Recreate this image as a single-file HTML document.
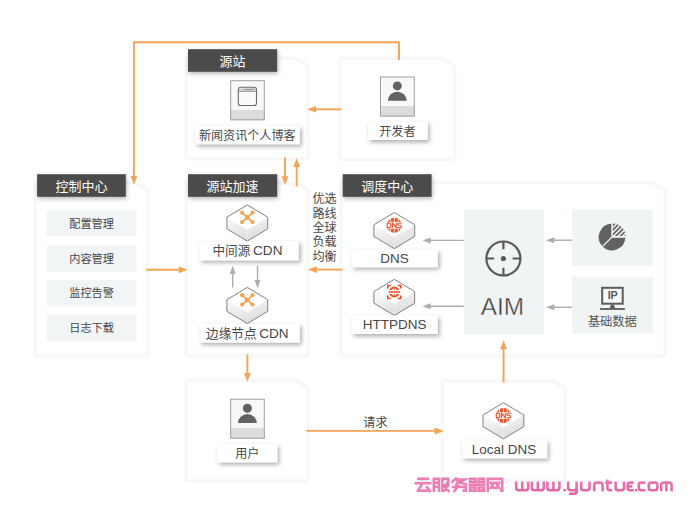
<!DOCTYPE html>
<html><head><meta charset="utf-8"><title>CDN</title>
<style>html,body{margin:0;padding:0;background:#fff}svg{display:block}text{font-family:"Liberation Sans","Noto Sans CJK SC",sans-serif}</style></head>
<body><svg width="700" height="522" viewBox="0 0 700 522">
<defs>
<filter id="psh" x="-8%" y="-8%" width="116%" height="116%"><feGaussianBlur stdDeviation="0.7"/></filter>
<filter id="hsh" x="-10%" y="-20%" width="120%" height="160%"><feDropShadow dx="1" dy="2" stdDeviation="2" flood-color="#000" flood-opacity="0.28"/></filter>
<filter id="lsh" x="-10%" y="-30%" width="120%" height="180%"><feDropShadow dx="1.8" dy="2.2" stdDeviation="2.1" flood-color="#000" flood-opacity="0.33"/></filter>
<linearGradient id="pk" gradientUnits="userSpaceOnUse" x1="0" y1="477" x2="0" y2="495"><stop offset="0" stop-color="#eb7fb5"/><stop offset="1" stop-color="#e25e9f"/></linearGradient>
<linearGradient id="gl" x1="0" y1="0" x2="0.25" y2="1"><stop offset="0" stop-color="#fdfdfd"/><stop offset="1" stop-color="#e0e0e0"/></linearGradient>
<linearGradient id="gr" x1="0.3" y1="0" x2="0.6" y2="1"><stop offset="0" stop-color="#f4f4f4"/><stop offset="1" stop-color="#d9d9d9"/></linearGradient>
</defs>
<title>CDN 架构图</title>
<desc>源站 新闻资讯个人博客 开发者 控制中心 配置管理 内容管理 监控告警 日志下载 源站加速 中间源 CDN 边缘节点 CDN 优选路线全球负载均衡 调度中心 DNS HTTPDNS AIM 基础数据 IP 用户 请求 Local DNS</desc>
<rect width="700" height="522" fill="#fff"/>
<polygon points="188,60 295.4,60 306.4,67 306.4,157 188,157" fill="none" stroke="#f8f8f9" stroke-width="7" stroke-linejoin="round" filter="url(#psh)"/><polygon points="188,60 295.4,60 306.4,67 306.4,157 188,157" fill="#fff"/><polygon points="341.5,60 442,60 453,67 453,157.5 341.5,157.5" fill="none" stroke="#f8f8f9" stroke-width="7" stroke-linejoin="round" filter="url(#psh)"/><polygon points="341.5,60 442,60 453,67 453,157.5 341.5,157.5" fill="#fff"/><polygon points="36.8,184.5 135.3,184.5 146.3,191.5 146.3,353.8 36.8,353.8" fill="none" stroke="#f8f8f9" stroke-width="7" stroke-linejoin="round" filter="url(#psh)"/><polygon points="36.8,184.5 135.3,184.5 146.3,191.5 146.3,353.8 36.8,353.8" fill="#fff"/><polygon points="188,184.5 295.4,184.5 306.4,191.5 306.4,354 188,354" fill="none" stroke="#f8f8f9" stroke-width="7" stroke-linejoin="round" filter="url(#psh)"/><polygon points="188,184.5 295.4,184.5 306.4,191.5 306.4,354 188,354" fill="#fff"/><polygon points="342.7,184.5 652.5,184.5 663.5,191.5 663.5,354.3 342.7,354.3" fill="none" stroke="#f8f8f9" stroke-width="7" stroke-linejoin="round" filter="url(#psh)"/><polygon points="342.7,184.5 652.5,184.5 663.5,191.5 663.5,354.3 342.7,354.3" fill="#fff"/><polygon points="188,382.3 295.4,382.3 306.4,389.3 306.4,479.3 188,479.3" fill="none" stroke="#f8f8f9" stroke-width="7" stroke-linejoin="round" filter="url(#psh)"/><polygon points="188,382.3 295.4,382.3 306.4,389.3 306.4,479.3 188,479.3" fill="#fff"/><polygon points="444.2,382.5 552.4,382.5 563.4,389.5 563.4,479.3 444.2,479.3" fill="none" stroke="#f8f8f9" stroke-width="7" stroke-linejoin="round" filter="url(#psh)"/><polygon points="444.2,382.5 552.4,382.5 563.4,389.5 563.4,479.3 444.2,479.3" fill="#fff"/><path d="M399.0 60.0 L399.0 42.2 L133.9 42.2" fill="none" stroke="#f4a455" stroke-width="1.9"/><path d="M133.9 41.3 L133.9 177.0" fill="none" stroke="#f4a455" stroke-width="1.9"/><polygon points="133.9,185.0 130.6,176.0 137.2,176.0" fill="#f4a455"/><rect x="188" y="49.2" width="89.19999999999999" height="22.599999999999994" fill="#4b4b4b" filter="url(#hsh)"/><text x="219.6" y="65.64" font-size="13" fill="#fff">源站</text><rect x="37.1" y="174.2" width="88.69999999999999" height="22.600000000000023" fill="#4b4b4b" filter="url(#hsh)"/><text x="55.45" y="190.64" font-size="13" fill="#fff">控制中心</text><rect x="188" y="174.2" width="89.19999999999999" height="22.600000000000023" fill="#4b4b4b" filter="url(#hsh)"/><text x="206.6" y="190.64" font-size="13" fill="#fff">源站加速</text><rect x="342.7" y="174.2" width="88.90000000000003" height="22.600000000000023" fill="#4b4b4b" filter="url(#hsh)"/><text x="361.15" y="190.64" font-size="13" fill="#fff">调度中心</text><rect x="230.2" y="80.2" width="34.60000000000002" height="40.099999999999994" fill="#f8f8f8"/><rect x="230.2" y="110" width="34.60000000000002" height="10.299999999999997" fill="#dcdcdc"/><rect x="230.7" y="80.7" width="33.60000000000002" height="39.099999999999994" fill="none" stroke="#a0a0a0" stroke-width="1"/><rect x="238.3" y="87.3" width="18.2" height="18.2" rx="2.6" fill="#fafafa" stroke="#6a6a6a" stroke-width="1.1"/><path d="M238.6 91.2H256.2" stroke="#6a6a6a" stroke-width="0.9"/><rect x="239.3" y="88.4" width="16.2" height="2.2" fill="#cfcfcf"/><rect x="244.5" y="88.8" width="9.5" height="1.3" fill="#9a9a9a"/><rect x="195.2" y="126.2" width="104.60000000000002" height="17.999999999999986" fill="#fff" filter="url(#lsh)"/><text x="198.9" y="139.6" font-size="12.1" fill="#474747">新闻资讯个人博客</text><rect x="380" y="76.5" width="34.80000000000001" height="40.099999999999994" fill="#f8f8f8"/><rect x="380" y="106" width="34.80000000000001" height="10.599999999999994" fill="#dcdcdc"/><rect x="380.5" y="77.0" width="33.80000000000001" height="39.099999999999994" fill="none" stroke="#a0a0a0" stroke-width="1"/><circle cx="397.3" cy="85.9" r="4.5" fill="#626262"/><path d="M387.90000000000003 100.7A9.4 9 0 0 1 406.7 100.7Z" fill="#626262"/><rect x="368" y="121.8" width="59.60000000000002" height="18.200000000000003" fill="#fff" filter="url(#lsh)"/><text x="379.25" y="135.6" font-size="12.1" fill="#474747">开发者</text><path d="M341.5 109.3 L315.0 109.3" fill="none" stroke="#f4a455" stroke-width="1.9"/><polygon points="307.0,109.3 316.0,106.0 316.0,112.6" fill="#f4a455"/><path d="M285.0 157.5 L285.0 177.2" fill="none" stroke="#f4a455" stroke-width="1.9"/><polygon points="285.0,185.2 281.6,176.2 288.4,176.2" fill="#f4a455"/><path d="M296.7 186.5 L296.7 166.0" fill="none" stroke="#f4a455" stroke-width="1.9"/><polygon points="296.7,158.0 300.1,167.0 293.3,167.0" fill="#f4a455"/><rect x="46.8" y="210.3" width="89.6" height="26.1" fill="#f2f5f6"/><text x="69.2" y="227.56" font-size="11.2" fill="#474747">配置管理</text><rect x="46.8" y="245.4" width="89.6" height="26.1" fill="#f2f5f6"/><text x="69.2" y="262.66" font-size="11.2" fill="#474747">内容管理</text><rect x="46.8" y="280.2" width="89.6" height="26.1" fill="#f2f5f6"/><text x="69.2" y="297.46" font-size="11.2" fill="#474747">监控告警</text><rect x="46.8" y="314.9" width="89.6" height="26.1" fill="#f2f5f6"/><text x="69.2" y="332.16" font-size="11.2" fill="#474747">日志下载</text><path d="M146.3 269.8 L179.8 269.8" fill="none" stroke="#f4a455" stroke-width="1.9"/><polygon points="187.8,269.8 178.8,273.2 178.8,266.4" fill="#f4a455"/><polygon points="226.9,217.20000000000002 247.3,229.5 247.3,241.1 226.9,228.8" fill="url(#gl)"/><polygon points="267.7,217.20000000000002 247.3,229.5 247.3,241.1 267.7,228.8" fill="url(#gr)"/><polygon points="247.3,204.9 267.7,217.20000000000002 247.3,229.5 226.9,217.20000000000002" fill="#fff"/><polygon points="247.3,204.9 267.7,217.20000000000002 267.7,228.8 247.3,241.1 226.9,228.8 226.9,217.20000000000002" fill="none" stroke="#828282" stroke-width="1" stroke-linejoin="round"/><path d="M242.10000000000002 212.70000000000002L252.5 222.1M252.5 212.70000000000002L242.10000000000002 222.1" stroke="#f4a455" stroke-width="1.7" fill="none"/><circle cx="242.10000000000002" cy="212.70000000000002" r="2.1" fill="#f4a455"/><circle cx="252.5" cy="212.70000000000002" r="2.1" fill="#f4a455"/><circle cx="242.10000000000002" cy="222.1" r="2.1" fill="#f4a455"/><circle cx="252.5" cy="222.1" r="2.1" fill="#f4a455"/><circle cx="247.3" cy="217.4" r="2.5" fill="#f4a455"/><rect x="199.6" y="241.4" width="99.20000000000002" height="18.900000000000006" fill="#fff" filter="url(#lsh)"/><text x="212.52" y="255.39" font-size="12.6" fill="#474747">中间源</text><text x="253.02" y="255.47" font-size="13.6" fill="#474747">CDN</text><path d="M232.7 287.6 L232.7 273.1" fill="none" stroke="#adadad" stroke-width="1.4"/><polygon points="232.7,265.8 235.7,274.1 229.7,274.1" fill="#adadad"/><path d="M257.5 265.6 L257.5 280.9" fill="none" stroke="#adadad" stroke-width="1.4"/><polygon points="257.5,288.2 254.5,279.9 260.5,279.9" fill="#adadad"/><polygon points="226.9,299.7 247.3,312.0 247.3,323.6 226.9,311.3" fill="url(#gl)"/><polygon points="267.7,299.7 247.3,312.0 247.3,323.6 267.7,311.3" fill="url(#gr)"/><polygon points="247.3,287.4 267.7,299.7 247.3,312.0 226.9,299.7" fill="#fff"/><polygon points="247.3,287.4 267.7,299.7 267.7,311.3 247.3,323.6 226.9,311.3 226.9,299.7" fill="none" stroke="#828282" stroke-width="1" stroke-linejoin="round"/><path d="M242.10000000000002 295.2L252.5 304.59999999999997M252.5 295.2L242.10000000000002 304.59999999999997" stroke="#f4a455" stroke-width="1.7" fill="none"/><circle cx="242.10000000000002" cy="295.2" r="2.1" fill="#f4a455"/><circle cx="252.5" cy="295.2" r="2.1" fill="#f4a455"/><circle cx="242.10000000000002" cy="304.59999999999997" r="2.1" fill="#f4a455"/><circle cx="252.5" cy="304.59999999999997" r="2.1" fill="#f4a455"/><circle cx="247.3" cy="299.9" r="2.5" fill="#f4a455"/><rect x="199.6" y="324" width="100.1" height="18.600000000000023" fill="#fff" filter="url(#lsh)"/><text x="206.12" y="337.69" font-size="12.6" fill="#474747">边缘节点</text><text x="259.22" y="337.77" font-size="13.6" fill="#474747">CDN</text><path d="M247.4 354.3 L247.4 374.0" fill="none" stroke="#f4a455" stroke-width="1.9"/><polygon points="247.4,382.0 244.1,373.0 250.8,373.0" fill="#f4a455"/><text x="312.5" y="203.2" font-size="12.1" fill="#474747">优选</text><text x="312.5" y="217.6" font-size="12.1" fill="#474747">路线</text><text x="312.5" y="232" font-size="12.1" fill="#474747">全球</text><text x="312.5" y="246.4" font-size="12.1" fill="#474747">负载</text><text x="312.5" y="260.8" font-size="12.1" fill="#474747">均衡</text><path d="M342.7 269.6 L315.8 269.6" fill="none" stroke="#f4a455" stroke-width="1.9"/><polygon points="307.8,269.6 316.8,266.2 316.8,273.0" fill="#f4a455"/><polygon points="373.90000000000003,224.8 394.3,237.1 394.3,248.7 373.90000000000003,236.4" fill="url(#gl)"/><polygon points="414.7,224.8 394.3,237.1 394.3,248.7 414.7,236.4" fill="url(#gr)"/><polygon points="394.3,212.5 414.7,224.8 394.3,237.1 373.90000000000003,224.8" fill="#fff"/><polygon points="394.3,212.5 414.7,224.8 414.7,236.4 394.3,248.7 373.90000000000003,236.4 373.90000000000003,224.8" fill="none" stroke="#828282" stroke-width="1" stroke-linejoin="round"/><circle cx="394.3" cy="225.3" r="7.5" fill="#e8532b"/><path d="M394.3 217.8V232.8M390.7 218.8Q388.3 225.3 390.7 231.8M397.90000000000003 218.8Q400.3 225.3 397.90000000000003 231.8" stroke="#fff" stroke-width="0.8" fill="none"/><rect x="386.2" y="221.9" width="16.2" height="6.8" fill="#fff"/><path d="M387.20 222.95v4.7h1.85q1.85 0 1.85 -2.35q0 -2.35 -1.85 -2.35zM392.45 227.65v-4.7l3.7 4.7v-4.7M401.40 223.65q0 -0.7 -1 -0.7h-1.70q-1 0 -1 1.15q0 1.2 1 1.2h1.70q1 0 1 1.2q0 1.15 -1 1.15h-1.70q-1 0 -1 -0.7" fill="none" stroke="#e8532b" stroke-width="1.15" stroke-linejoin="round"/><rect x="351.7" y="249.3" width="86.0" height="17.899999999999977" fill="#fff" filter="url(#lsh)"/><text x="380.35" y="263.03" font-size="13.5" fill="#474747">DNS</text><polygon points="373.90000000000003,291.6 394.3,303.90000000000003 394.3,315.50000000000006 373.90000000000003,303.20000000000005" fill="url(#gl)"/><polygon points="414.7,291.6 394.3,303.90000000000003 394.3,315.50000000000006 414.7,303.20000000000005" fill="url(#gr)"/><polygon points="394.3,279.3 414.7,291.6 394.3,303.90000000000003 373.90000000000003,291.6" fill="#fff"/><polygon points="394.3,279.3 414.7,291.6 414.7,303.20000000000005 394.3,315.50000000000006 373.90000000000003,303.20000000000005 373.90000000000003,291.6" fill="none" stroke="#828282" stroke-width="1" stroke-linejoin="round"/><circle cx="394.3" cy="292.0" r="4.5" fill="#fff" stroke="#e8532b" stroke-width="1.8"/><path d="M394.3 287.5V296.5M392.1 288.3Q390.7 292.0 392.1 295.7M396.5 288.3Q397.90000000000003 292.0 396.5 295.7" stroke="#e8532b" stroke-width="0.9" fill="none"/><rect x="387.90000000000003" y="290.1" width="12.8" height="3.8" fill="#fff"/><rect x="388.5" y="291.15" width="11.6" height="1.7" fill="#e8532b" opacity="0.9"/><path d="M387.8 288.5V285.5H390.8M397.8 285.5H400.8V288.5M400.8 295.5V298.5H397.8M390.8 298.5H387.8V295.5" stroke="#e8532b" stroke-width="1.7" fill="none"/><rect x="351.7" y="315.6" width="86.0" height="18.399999999999977" fill="#fff" filter="url(#lsh)"/><text x="362.73" y="329.13" font-size="13.5" fill="#474747">HTTPDNS</text><path d="M463.8 240.4 L429.8 240.4" fill="none" stroke="#adadad" stroke-width="1.4"/><polygon points="422.5,240.4 430.8,237.4 430.8,243.4" fill="#adadad"/><path d="M463.8 306.2 L429.6 306.2" fill="none" stroke="#adadad" stroke-width="1.4"/><polygon points="422.3,306.2 430.6,303.2 430.6,309.2" fill="#adadad"/><rect x="463.8" y="209.2" width="80.4" height="125.2" fill="#f1f4f5"/><rect x="572.2" y="209.2" width="80.9" height="56.9" fill="#f1f4f5"/><rect x="572.2" y="276.7" width="80.9" height="56.8" fill="#f1f4f5"/><path d="M572.2 240.2 L553.3 240.2" fill="none" stroke="#adadad" stroke-width="1.4"/><polygon points="546.0,240.2 554.3,237.2 554.3,243.2" fill="#adadad"/><path d="M572.2 307.3 L553.3 307.3" fill="none" stroke="#adadad" stroke-width="1.4"/><polygon points="546.0,307.3 554.3,304.3 554.3,310.3" fill="#adadad"/><g stroke="#5a5a5a" stroke-width="2.2" fill="none"><circle cx="503.4" cy="258.5" r="17.0"/><path d="M503.4 241.5V249.3M503.4 275.5V267.7M486.4 258.5H494.2M520.4 258.5H512.6"/></g><circle cx="503.4" cy="258.5" r="2.6" fill="#5a5a5a"/><g transform="translate(502.4 0) scale(1.035 1) translate(-502.4 0)"><text x="481.42" y="315.45" font-size="23.6" fill="#3a3a3a" stroke="#f1f4f5" stroke-width="0.4">AIM</text></g><path d="M612 237L612.00 223.70A13.3 13.3 0 0 0 602.60 246.40Z" fill="#626262"/><path d="M612 237L602.60 246.40A13.3 13.3 0 0 0 625.30 237.00Z" fill="#626262"/><path d="M612 237L602.60 246.40M612 237V223.7M612 237H625.3" stroke="#f1f4f5" stroke-width="1.3"/><clipPath id="q"><path d="M612.9 236.1V223.5A12.6 12.6 0 0 1 625.5 236.1Z"/></clipPath><path d="M601.1 237.1L616.1 222.1M605.7 237.1L620.7 222.1M610.3 237.1L625.3 222.1M614.9 237.1L629.9 222.1M619.5 237.1L634.5 222.1M624.1 237.1L639.1 222.1M628.7 237.1L643.7 222.1" stroke="#626262" stroke-width="1.7" clip-path="url(#q)"/><g stroke="#5c5c5c" fill="none"><rect x="602.2" y="287.8" width="20.5" height="15.9" stroke-width="2" fill="#f8f9f9"/><path d="M600 309H624.9" stroke-width="1.8"/><path d="M609.4 308.6L611.3 304.4H613.6L615.5 308.6Z" fill="#5c5c5c" stroke="none"/></g><text x="607.65" y="298.93" font-size="10.7" font-weight="bold" fill="#555">IP</text><text x="587.7" y="325.87" font-size="12.3" fill="#555">基础数据</text><path d="M503.6 382.5 L503.6 348.3" fill="none" stroke="#f4a455" stroke-width="1.9"/><polygon points="503.6,340.3 507.0,349.3 500.2,349.3" fill="#f4a455"/><rect x="230.2" y="398.7" width="34.60000000000002" height="40.0" fill="#f8f8f8"/><rect x="230.2" y="428.2" width="34.60000000000002" height="10.5" fill="#dcdcdc"/><rect x="230.7" y="399.2" width="33.60000000000002" height="39.0" fill="none" stroke="#a0a0a0" stroke-width="1"/><circle cx="247.4" cy="408.3" r="4.5" fill="#626262"/><path d="M238.0 423.1A9.4 9 0 0 1 256.8 423.1Z" fill="#626262"/><rect x="217.3" y="444.3" width="59.89999999999998" height="18.0" fill="#fff" filter="url(#lsh)"/><text x="235.2" y="457.8" font-size="12.1" fill="#474747">用户</text><path d="M306.4 430.9 L435.5 430.9" fill="none" stroke="#f4a455" stroke-width="1.9"/><polygon points="444.0,430.9 434.5,434.4 434.5,427.4" fill="#f4a455"/><text x="363.2" y="426.6" font-size="12.1" fill="#474747">请求</text><polygon points="483.0,415.0 503.4,427.3 503.4,438.90000000000003 483.0,426.6" fill="url(#gl)"/><polygon points="523.8,415.0 503.4,427.3 503.4,438.90000000000003 523.8,426.6" fill="url(#gr)"/><polygon points="503.4,402.7 523.8,415.0 503.4,427.3 483.0,415.0" fill="#fff"/><polygon points="503.4,402.7 523.8,415.0 523.8,426.6 503.4,438.90000000000003 483.0,426.6 483.0,415.0" fill="none" stroke="#828282" stroke-width="1" stroke-linejoin="round"/><circle cx="503.4" cy="415.5" r="7.5" fill="#e8532b"/><path d="M503.4 408.0V423.0M499.79999999999995 409.0Q497.4 415.5 499.79999999999995 422.0M507.0 409.0Q509.4 415.5 507.0 422.0" stroke="#fff" stroke-width="0.8" fill="none"/><rect x="495.29999999999995" y="412.1" width="16.2" height="6.8" fill="#fff"/><path d="M496.30 413.15v4.7h1.85q1.85 0 1.85 -2.35q0 -2.35 -1.85 -2.35zM501.55 417.85v-4.7l3.7 4.7v-4.7M510.50 413.85q0 -0.7 -1 -0.7h-1.70q-1 0 -1 1.15q0 1.2 1 1.2h1.70q1 0 1 1.2q0 1.15 -1 1.15h-1.70q-1 0 -1 -0.7" fill="none" stroke="#e8532b" stroke-width="1.15" stroke-linejoin="round"/><rect x="462.3" y="439.9" width="84.80000000000001" height="18.30000000000001" fill="#fff" filter="url(#lsh)"/><text x="471.74" y="453.83" font-size="13.5" fill="#474747">Local DNS</text><g fill="none" stroke="url(#pk)" stroke-width="2.55" stroke-linejoin="miter"><path transform="translate(414.50 477.6)" d="M2.6 1.275H14.6 M0 5.7H17.0 M8.2 5.7L3.4 13.025 M2.2 13.025H15.2 M11.8 8.6L16.2 14.3"/><path transform="translate(432.50 477.6)" d="M1.275 14.3V1.275H6.6V14.3 M1.275 5H6.6 M1.275 9.2H6.6 M9.9 14.3V1.275H15.725V5.6H13 M9.9 7.6H17.0 M10.6 14.3L16 7.6 M11.6 8.4L17.0 14.3"/><path transform="translate(450.50 477.6)" d="M6.4 0L1 5 M4.6 1.875H14.4L4.6 7.4 M5.8 3.6L16.6 7.2 M1.6 9.4H15.4V13.025H11.8 M9 7L3.2 14.3"/><path transform="translate(468.50 477.6)" d="M1.6 1.275H7V4.4H1.6Z M10 1.275H15.4V4.4H10Z M0 7.15H17.0 M1.6 9.9H7V13.025H1.6Z M10 9.9H15.4V13.025H10Z"/><path transform="translate(486.50 477.6)" d="M1.275 14.3V1.275H15.725V13.025H13.4 M3.6 4L8 11.6 M8 4L3.6 11.6 M9 4L13.4 11.6 M13.4 4L9 11.6"/></g><path d="M516.2 481.6V487.8Q516.2 490.2 518.6 490.2H525.8000000000001Q528.2 490.2 528.2 487.8V481.6M522.2 481.6V490.2M531.8 481.6V487.8Q531.8 490.2 534.1999999999999 490.2H541.4Q543.8 490.2 543.8 487.8V481.6M537.8 481.6V490.2M547.4 481.6V487.8Q547.4 490.2 549.8 490.2H557.0Q559.4 490.2 559.4 487.8V481.6M553.4 481.6V490.2M568.2 481.6V487.8Q568.2 490.2 570.6 490.2H574.2Q576.6 490.2 576.6 487.8V481.6M576.6 487.8V491.8Q576.6 493.8 574.2 493.8H569.2M581.2 481.6V487.8Q581.2 490.2 583.6 490.2H587.2Q589.6 490.2 589.6 487.8V481.6M594.2 491.2V485.0Q594.2 482.6 596.6 482.6H600.2Q602.6 482.6 602.6 485.0V491.2M607.4000000000001 479.6V487.8Q607.4000000000001 490.2 609.8000000000001 490.2H612.2M605.2 482.6H612.2M615.6 481.6V487.8Q615.6 490.2 618.0 490.2H621.6Q624.0 490.2 624.0 487.8V481.6M633.8000000000001 482.6H630.0Q627.6 482.6 627.6 485.0V487.8Q627.6 490.2 630.0 490.2H633.8000000000001M627.6 486.4H632.3000000000001M645.4 482.6H641.1999999999999Q638.8 482.6 638.8 485.0V487.8Q638.8 490.2 641.1999999999999 490.2H645.4M651.1999999999999 482.6H655.0Q657.4 482.6 657.4 485.0V487.8Q657.4 490.2 655.0 490.2H651.1999999999999Q648.8 490.2 648.8 487.8V485.0Q648.8 482.6 651.1999999999999 482.6ZM661.2 491.2V485.0Q661.2 482.6 663.6 482.6H669.2Q671.6 482.6 671.6 485.0V491.2M666.4000000000001 482.6V491.2" fill="none" stroke="url(#pk)" stroke-width="2.6" stroke-linejoin="round"/><rect x="563.4" y="489.0" width="2.5" height="2.4" fill="url(#pk)"/><rect x="635" y="489.0" width="2.5" height="2.4" fill="url(#pk)"/>
</svg></body></html>
